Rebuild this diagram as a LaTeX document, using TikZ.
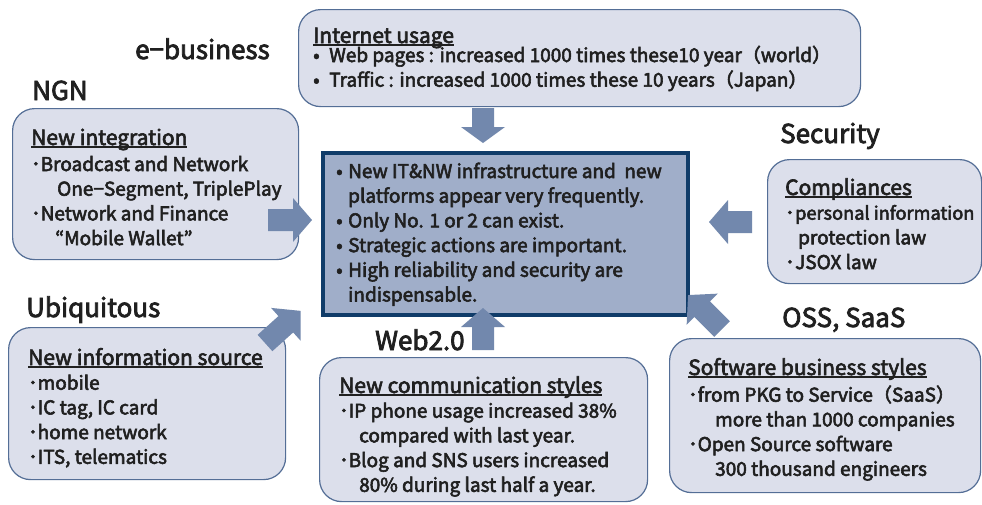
\documentclass[tikz,border=0pt]{standalone}
\usepackage{fontspec}
\setmainfont{Noto Sans CJK JP}[FakeBold=3]
\definecolor{boxfill}{RGB}{220,223,235}
\definecolor{boxline}{RGB}{84,110,150}
\definecolor{cfill}{RGB}{160,174,201}
\definecolor{cline}{RGB}{16,60,105}
\definecolor{arrfill}{RGB}{114,136,173}
\definecolor{txt}{RGB}{32,32,32}
\newcommand\myul[1]{{\setbox0\hbox{#1}\rlap{\rule[-3pt]{\wd0}{1.6pt}}\box0}}
\newcommand\ttl[1]{{\fontsize{21}{24.7}\selectfont\myul{#1}}}
\newcommand\bl[1]{\makebox[#1][l]{•}}
\newcommand\bdot[1][9.5pt]{\makebox[#1][l]{･}}
\newcommand\blockarr[4]{%
  \begin{scope}[shift={#1}, rotate=#2]
    \fill[arrfill] (0,-11) -- ({#3-#4},-11) -- ({#3-#4},-22) -- (#3,0) -- ({#3-#4},22) -- ({#3-#4},11) -- (0,11) -- cycle;
  \end{scope}}
\tikzset{
  rbox/.style={draw=boxline, line width=1.2pt, fill=boxfill, rounded corners=22pt, anchor=north west, inner sep=0pt},
  cbox/.style={draw=cline, line width=4pt, fill=cfill, anchor=north west, inner sep=0pt},
  txtnode/.style={align=left, inner sep=0pt, anchor=base west, text=txt, font=\fontsize{19}{24.7}\selectfont},
  lbl/.style={inner sep=0pt, anchor=base west, text=txt, font=\fontsize{26}{30}\selectfont}
}
\begin{document}
\begin{tikzpicture}[x=1pt,y=-1pt]
\useasboundingbox[fill=white] (0,0) rectangle (982,504);
% boxes
\node[rbox, minimum width=562pt, minimum height=97pt] (internet) at (298,9) {};
\node[rbox, minimum width=286pt, minimum height=151pt] (integ) at (12,108) {};
\node[cbox, minimum width=365pt, minimum height=162pt] (central) at (321,151) {};
\node[rbox, minimum width=214pt, minimum height=124pt] (compl) at (767,159) {};
\node[rbox, minimum width=277pt, minimum height=152pt] (info) at (8,327) {};
\node[rbox, minimum width=328pt, minimum height=144pt] (comm) at (319,357) {};
\node[rbox, minimum width=311pt, minimum height=154pt] (soft) at (669,338) {};
% texts (anchored at the baseline of their last line)
\node[txtnode] (internet-t) at (313,86.7) {\ttl{Internet usage}\\[-5.7pt]
\bl{16pt}Web pages : increased 1000 times these10 year（world）\\
\bl{16pt}Traffic : increased 1000 times these 10 years（Japan）};
\node[txtnode] (integ-t) at (31,245.1) {\ttl{New integration}\\[1.3pt]
\bdot Broadcast and Network\\
\hspace*{26pt}One−Segment, TriplePlay\\
\bdot Network and Finance\\
\hspace*{24pt}“Mobile Wallet”};
\node[txtnode] (central-t) at (336,301.5) {\bl{12pt}New IT\&NW infrastructure and\ \ new\\
\hspace*{12pt}platforms appear very frequently.\\
\bl{12pt}Only No. 1 or 2 can exist.\\
\bl{12pt}Strategic actions are important.\\
\bl{12pt}High reliability and security are\\
\hspace*{12pt}indispensable.};
\node[txtnode] (compl-t) at (785,269.1) {\ttl{Compliances}\\
\bdot[10pt]{\fontsize{18.2}{24.7}\selectfont personal information}\\
\hspace*{13pt}protection law\\
\bdot[10pt]JSOX law};
\node[txtnode] (info-t) at (28,463.8) {\ttl{New information source}\\
\bdot mobile\\
\bdot IC tag, IC card\\
\bdot home network\\
\bdot ITS, telematics};
\node[txtnode] (comm-t) at (339,491.8) {\ttl{New communication styles}\\
\bdot IP phone usage increased 38\%\\
\hspace*{20pt}compared with last year.\\
\bdot Blog and SNS users increased\\
\hspace*{20pt}80\% during last half a year.};
\node[txtnode] (soft-t) at (688,475.8) {\ttl{Software business styles}\\[2pt]
\bdot from PKG to Service（SaaS）\\
\hspace*{27pt}more than 1000 companies\\
\bdot Open Source software\\
\hspace*{27pt}300 thousand engineers};
% labels
\node[lbl] (ebiz) at (135,59) {e−business};
\node[lbl] (ngn) at (32,100) {NGN};
\node[lbl] (sec) at (780,143) {Security};
\node[lbl] (ubi) at (26,317) {Ubiquitous};
\node[lbl] (web) at (375,350) {Web2.0};
\node[lbl] (oss) at (782,327) {OSS, SaaS};
% block arrows
\blockarr{(483,108)}{-90}{35}{16}
\blockarr{(483,350)}{90}{42}{19}
\blockarr{(268,220)}{0}{44}{19}
\blockarr{(752,222)}{180}{43}{19}
\blockarr{(265,343)}{42}{48}{20}
\blockarr{(722,329)}{135}{48}{20}
\end{tikzpicture}
\end{document}
